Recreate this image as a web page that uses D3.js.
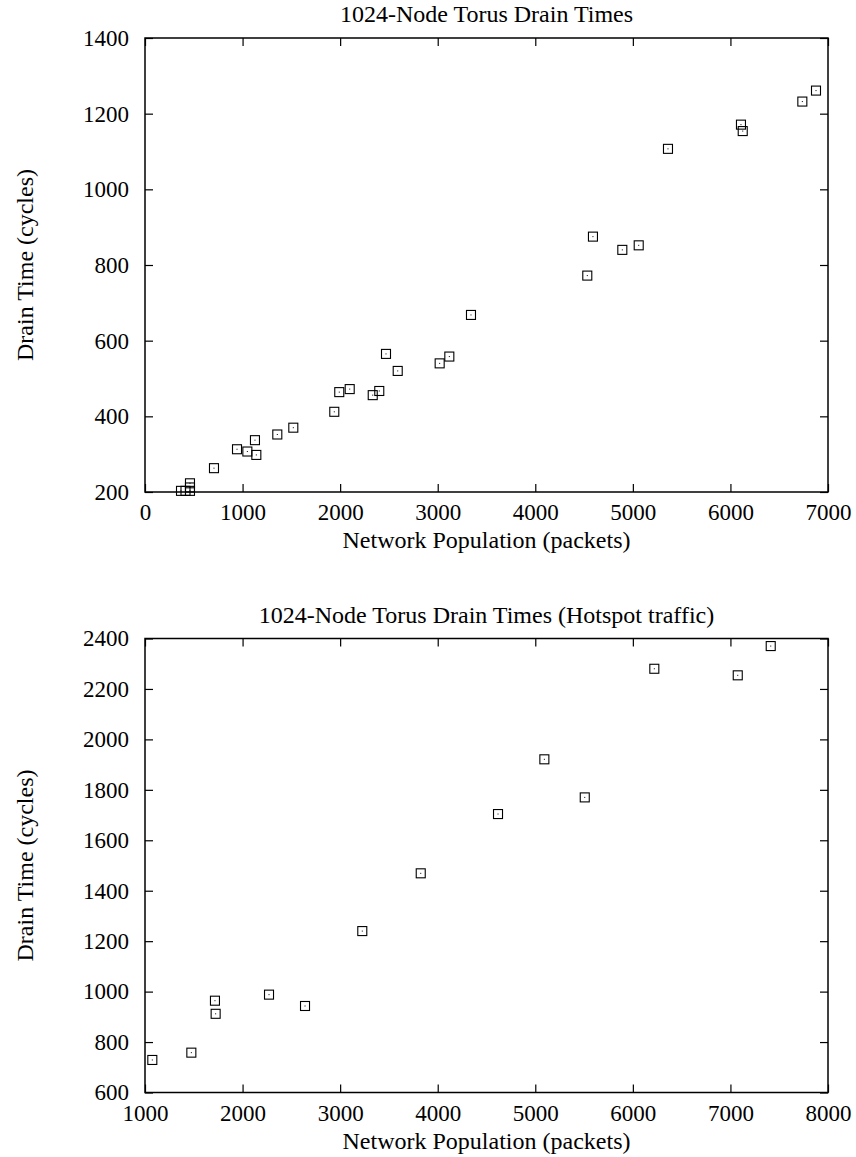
<!DOCTYPE html>
<html><head><meta charset="utf-8">
<script src="https://cdn.jsdelivr.net/npm/d3@7"></script>
<style>body{margin:0;background:#fff}svg text{font-family:"Liberation Serif","Times New Roman",serif;fill:#000}</style>
</head><body>
<svg id="c" width="856" height="1157"></svg>
<script>
// Chart 1: uniform traffic
const title1 = "1024-Node Torus Drain Times";
const pop1 = [369,415,461,461,461,707,943,1049,1127,1141,1356,1520,1940,1991,2098,2334,2401,2470,2590,3020,3119,3341,4533,4591,4892,5060,5360,6108,6126,6737,6877];
const drain1 = [203,203,203,212,223,263,313,307,337,298,352,370,412,464,472,456,467,565,520,540,558,668,772,875,840,852,1107,1171,1154,1232,1261];
const xTicks1 = [0,1000,2000,3000,4000,5000,6000,7000];
const yTicks1 = [200,400,600,800,1000,1200,1400];

// Chart 2: hotspot traffic
const title2 = "1024-Node Torus Drain Times (Hotspot traffic)";
const pop2 = [1075,1475,1717,1724,2271,2640,3227,3826,4618,5093,5507,6220,7075,7413];
const drain2 = [729,758,964,912,988,943,1240,1469,1704,1921,1770,2280,2254,2370];
const xTicks2 = [1000,2000,3000,4000,5000,6000,7000,8000];
const yTicks2 = [600,800,1000,1200,1400,1600,1800,2000,2200,2400];

const xLabel = "Network Population (packets)";
const yLabel = "Drain Time (cycles)";

const svg = d3.select("#c");

function panel(top, title, xs, ys, xTicks, yTicks) {
  const L = 145, R = 828, T = top, B = top + 454;
  const x = d3.scaleLinear().domain(d3.extent(xTicks)).range([L, R]);
  const y = d3.scaleLinear().domain(d3.extent(yTicks)).range([B, T]);
  const g = svg.append("g");
  const fs = "24px", tfs = "23px";
  const tk = 8;
  const ax = g.append("g").attr("transform", `translate(0,${B})`)
    .call(d3.axisBottom(x).tickValues(xTicks).tickFormat(d3.format("d")).tickSizeInner(-tk).tickSizeOuter(0).tickPadding(12));
  const axT = g.append("g").attr("transform", `translate(0,${T})`)
    .call(d3.axisTop(x).tickValues(xTicks).tickFormat("").tickSizeInner(-tk).tickSizeOuter(0));
  const ay = g.append("g").attr("transform", `translate(${L},0)`)
    .call(d3.axisLeft(y).tickValues(yTicks).tickFormat(d3.format("d")).tickSizeInner(-tk).tickSizeOuter(0).tickPadding(16));
  const ayR = g.append("g").attr("transform", `translate(${R},0)`)
    .call(d3.axisRight(y).tickValues(yTicks).tickFormat("").tickSizeInner(-tk).tickSizeOuter(0));
  [ax, axT, ay, ayR].forEach(a => {
    a.select(".domain").remove();
    a.selectAll("line").attr("stroke", "#000").attr("stroke-width", 1.2);
    a.selectAll("text").style("font-size", tfs).attr("fill", "#000")
      .style("font-family", '"Liberation Serif","Times New Roman",serif');
  });
  g.append("rect").attr("x", L).attr("y", T).attr("width", R - L).attr("height", B - T)
    .attr("fill", "none").attr("stroke", "#000").attr("stroke-width", 1.5);
  const pts = g.append("g");
  xs.forEach((v, i) => {
    const cx = x(v), cy = y(ys[i]);
    pts.append("rect").attr("x", cx - 4.5).attr("y", cy - 4.5).attr("width", 9).attr("height", 9)
      .attr("fill", "none").attr("stroke", "#000").attr("stroke-width", 1.1);
    pts.append("rect").attr("x", cx - 0.5).attr("y", cy - 0.5).attr("width", 1).attr("height", 1)
      .attr("fill", "#000");
  });
  g.append("text").attr("x", (L + R) / 2).attr("y", T - 16).attr("text-anchor", "middle")
    .style("font-size", fs).text(title);
  g.append("text").attr("x", (L + R) / 2).attr("y", B + 56).attr("text-anchor", "middle")
    .style("font-size", fs).text(xLabel);
  g.append("text").attr("transform", `translate(33,${(T + B) / 2}) rotate(-90)`).attr("text-anchor", "middle")
    .style("font-size", fs).text(yLabel);
}

panel(38, title1, pop1, drain1, xTicks1, yTicks1);
panel(638.5, title2, pop2, drain2, xTicks2, yTicks2);
</script>
</body></html>
